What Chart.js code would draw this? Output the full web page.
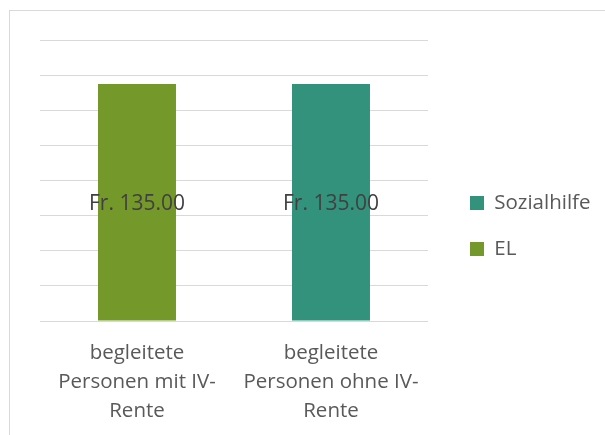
<!DOCTYPE html>
<html>
<head>
<meta charset="utf-8">
<script src="https://cdn.jsdelivr.net/npm/chart.js@4"></script>
<style>
  html, body { margin: 0; padding: 0; width: 605px; height: 435px; overflow: hidden; background: #fff; }
  #frame {
    position: absolute; left: 9px; top: 10px; width: 620px; height: 450px;
    border: 1px solid #d9d9d9; box-sizing: border-box;
  }
  #wrap { position: absolute; left: 0; top: 0; width: 605px; height: 435px; }
</style>
</head>
<body>
<div id="frame"></div>
<div id="wrap"><canvas id="chart"></canvas></div>
<script>
  // chart data
  const categories = [
    ['begleitete', 'Personen mit IV-', 'Rente'],
    ['begleitete', 'Personen ohne IV-', 'Rente']
  ];
  const elValues = [135, 0];
  const sozialhilfeValues = [0, 135];
  const yMax = 160;
  const yStep = 20;

  // writes "Fr. 135.00" in the middle of each bar
  const barLabels = {
    id: 'barLabels',
    afterDatasetsDraw(chart) {
      const ctx = chart.ctx;
      ctx.save();
      ctx.font = '21px "Open Sans"';
      ctx.fillStyle = '#404040';
      ctx.textAlign = 'center';
      ctx.textBaseline = 'middle';
      chart.data.datasets.forEach((ds, i) => {
        chart.getDatasetMeta(i).data.forEach((bar, j) => {
          const v = ds.data[j];
          if (!v) return;
          const mid = (bar.y + bar.base) / 2 + 2;
          ctx.fillText('Fr. ' + v.toFixed(2), bar.x, mid);
        });
      });
      ctx.restore();
    }
  };

  new Chart(document.getElementById('chart'), {
    type: 'bar',
    data: {
      labels: categories,
      datasets: [
        { label: 'EL', data: elValues, backgroundColor: '#75982b' },
        { label: 'Sozialhilfe', data: sozialhilfeValues, backgroundColor: '#32927c' }
      ]
    },
    options: {
      responsive: true,
      maintainAspectRatio: false,
      animation: false,
      layout: { padding: { left: 40, top: 40, right: 4.5, bottom: 0 } },
      datasets: { bar: { categoryPercentage: 1, barPercentage: 0.402 } },
      scales: {
        x: {
          stacked: true,
          grid: { display: false },
          border: { display: false },
          ticks: {
            color: '#595959',
            padding: 9.5,
            maxRotation: 0,
            autoSkip: false,
            font: { family: 'Open Sans', size: 20.5, lineHeight: 1.415 }
          },
          afterFit: s => { s.height = 114; }
        },
        y: {
          stacked: true,
          position: 'right',
          min: 0,
          max: yMax,
          ticks: { display: false, stepSize: yStep },
          grid: { color: '#d9d9d9', lineWidth: 1, drawTicks: false },
          border: { display: false },
          afterFit: s => { s.width = 16.5; }   // gap between plot and legend
        }
      },
      plugins: {
        tooltip: { enabled: false },
        legend: {
          position: 'right',
          fullSize: false,
          align: 'start',
          reverse: true,
          maxWidth: 300,
          // empty title only pushes the items down
          title: { display: true, text: '', font: { size: 12 }, padding: { top: 112.85, bottom: 0 } },
          labels: {
            color: '#595959',
            boxWidth: 14,
            boxHeight: 14,
            padding: 25.5,
            font: { family: 'Open Sans', size: 20.5 }
          }
        }
      }
    },
    plugins: [barLabels]
  });
</script>
</body>
</html>
